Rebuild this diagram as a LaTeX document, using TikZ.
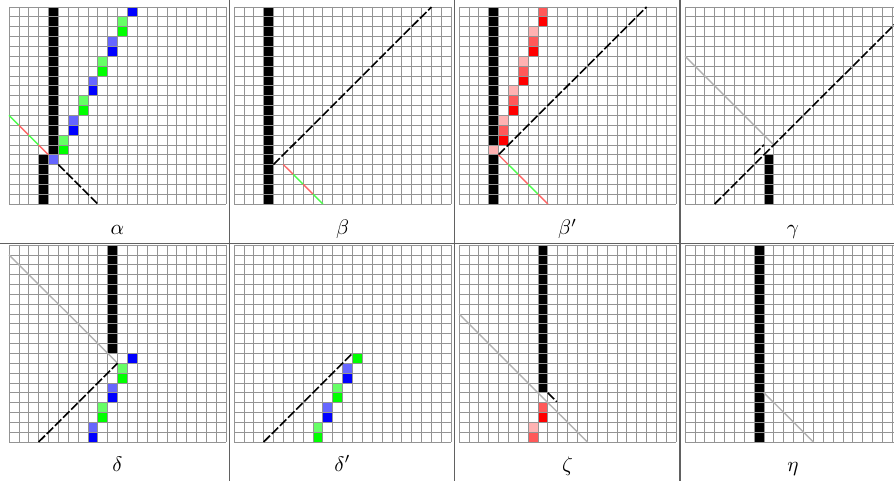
\documentclass[tikz,border=0pt]{standalone}
\usepackage{tikz}
\tikzstyle{gridline} = [black!42, line width=0.7pt]
\tikzstyle{panel} = [x=9.87pt, y=-9.85pt]
\tikzstyle{ray} = [line width=1.6pt, dash pattern=on 9pt off 2.5pt]
\tikzstyle{shade} = [black!30, line width=1.4pt]
\tikzstyle{sep} = [black!62, line width=1.2pt]
\tikzstyle{lab} = [anchor=base, scale=2.1]
\colorlet{lblue}{blue!60}
\colorlet{lgreen}{green!60}
\colorlet{mred}{red!65}
\colorlet{lred}{red!30}
\colorlet{rgred}{red!60}
\colorlet{rggreen}{green!70}
\newcommand{\board}{%
  \foreach \i in {0,...,22} \draw[gridline] (\i,0)--(\i,20);
  \foreach \j in {0,...,20} \draw[gridline] (0,\j)--(22,\j);}
\newcommand{\pix}[3]{\fill[#3] (#1,#2) rectangle ++(1,1);}
\newcommand{\wallrun}[3]{\fill[black] (#1,#2) rectangle (#1+1,#3+1);}
\newcommand{\rgseg}[3]{\draw[#3, line width=1.4pt] (#1,#2) -- ++(1,1);}

\begin{document}
\begin{tikzpicture}[x=1pt, y=-1pt]
  \clip (0,0) rectangle (894,481);
  \fill[white] (0,0) rectangle (894,481);

  % alpha
  \begin{scope}[shift={(9pt,-7pt)}, panel]
    \wallrun{4}{0}{14} \wallrun{3}{15}{19}
    \pix{4}{15}{lblue}
    \foreach \c/\r/\a/\b in {5/13/lgreen/green, 6/11/lblue/blue, 7/9/lgreen/green, 8/7/lblue/blue, 9/5/lgreen/green, 10/3/lblue/blue, 11/1/lgreen/green}
      {\pix{\c}{\r}{\a} \pix{\c}{\r+1}{\b}}
    \pix{12}{0}{blue}
    \board
    \rgseg{0}{11}{rggreen} \rgseg{1}{12}{rgred} \rgseg{2}{13}{rggreen} \rgseg{3}{14}{rgred}
    \draw[ray] (5,16)--(9,20);
  \end{scope}

  % beta
  \begin{scope}[shift={(234pt,-7pt)}, panel]
    \wallrun{3}{0}{19}
    \board
    \draw[ray] (4,16)--(20,0);
    \rgseg{5}{16}{rgred} \rgseg{6}{17}{rggreen} \rgseg{7}{18}{rgred} \rgseg{8}{19}{rggreen}
  \end{scope}

  % beta'
  \begin{scope}[shift={(459pt,-7pt)}, panel]
    \wallrun{3}{0}{13} \wallrun{3}{15}{19}
    \pix{3}{14}{lred}
    \foreach \c/\r in {4/11, 5/8, 6/5, 7/2}
      {\pix{\c}{\r}{lred} \pix{\c}{\r+1}{mred} \pix{\c}{\r+2}{red}}
    \pix{8}{0}{mred} \pix{8}{1}{red}
    \board
    \draw[ray] (4,15)--(19,0);
    \rgseg{4}{15}{rgred} \rgseg{5}{16}{rggreen} \rgseg{6}{17}{rgred} \rgseg{7}{18}{rggreen} \rgseg{8}{19}{rgred}
  \end{scope}

  % gamma
  \begin{scope}[shift={(685pt,-7pt)}, panel]
    \wallrun{8}{15}{19}
    \board
    \draw[shade] (0,5)--(9,14);
    \draw[ray] (3,20)--(22,1);
    \draw[ray] (7,15)--(8,14);
  \end{scope}

  % delta
  \begin{scope}[shift={(9pt,-245pt)}, panel]
    \wallrun{10}{0}{10}
    \pix{12}{11}{blue}
    \foreach \c/\r/\a/\b in {11/12/lgreen/green, 10/14/lblue/blue, 9/16/lgreen/green, 8/18/lblue/blue}
      {\pix{\c}{\r}{\a} \pix{\c}{\r+1}{\b}}
    \board
    \draw[shade] (0,1)--(11,12);
    \draw[ray] (3,20)--(11,12);
  \end{scope}

  % delta'
  \begin{scope}[shift={(234pt,-245pt)}, panel]
    \pix{12}{11}{green}
    \foreach \c/\r/\a/\b in {11/12/lblue/blue, 10/14/lgreen/green, 9/16/lblue/blue, 8/18/lgreen/green}
      {\pix{\c}{\r}{\a} \pix{\c}{\r+1}{\b}}
    \board
    \draw[ray] (3,20)--(12,11);
  \end{scope}

  % zeta
  \begin{scope}[shift={(459pt,-245pt)}, panel]
    \wallrun{8}{0}{14}
    \pix{8}{16}{mred} \pix{8}{17}{red}
    \pix{7}{18}{lred} \pix{7}{19}{mred}
    \board
    \draw[shade] (0,7)--(13,20);
    \draw[ray] (9,15)--(9.9,15.9);
  \end{scope}

  % eta
  \begin{scope}[shift={(685pt,-245pt)}, panel]
    \wallrun{7}{0}{19}
    \board
    \draw[shade] (8,15)--(13,20);
  \end{scope}

  \draw[sep] (0,243.5)--(894,243.5);
  \foreach \x in {229.5,454.5,680} \draw[sep] (\x,0)--(\x,481);

  \node[lab] (alpha) at (117.5,235) {$\alpha$};
  \node[lab] (beta) at (342.5,235) {$\beta$};
  \node[lab] (betap) at (567.5,235) {$\beta'$};
  \node[lab] (gamma) at (793,235) {$\gamma$};
  \node[lab] (delta) at (117.5,471) {$\delta$};
  \node[lab] (deltap) at (342.5,471) {$\delta'$};
  \node[lab] (zeta) at (567.5,471) {$\zeta$};
  \node[lab] (eta) at (793,471) {$\eta$};
\end{tikzpicture}
\end{document}
